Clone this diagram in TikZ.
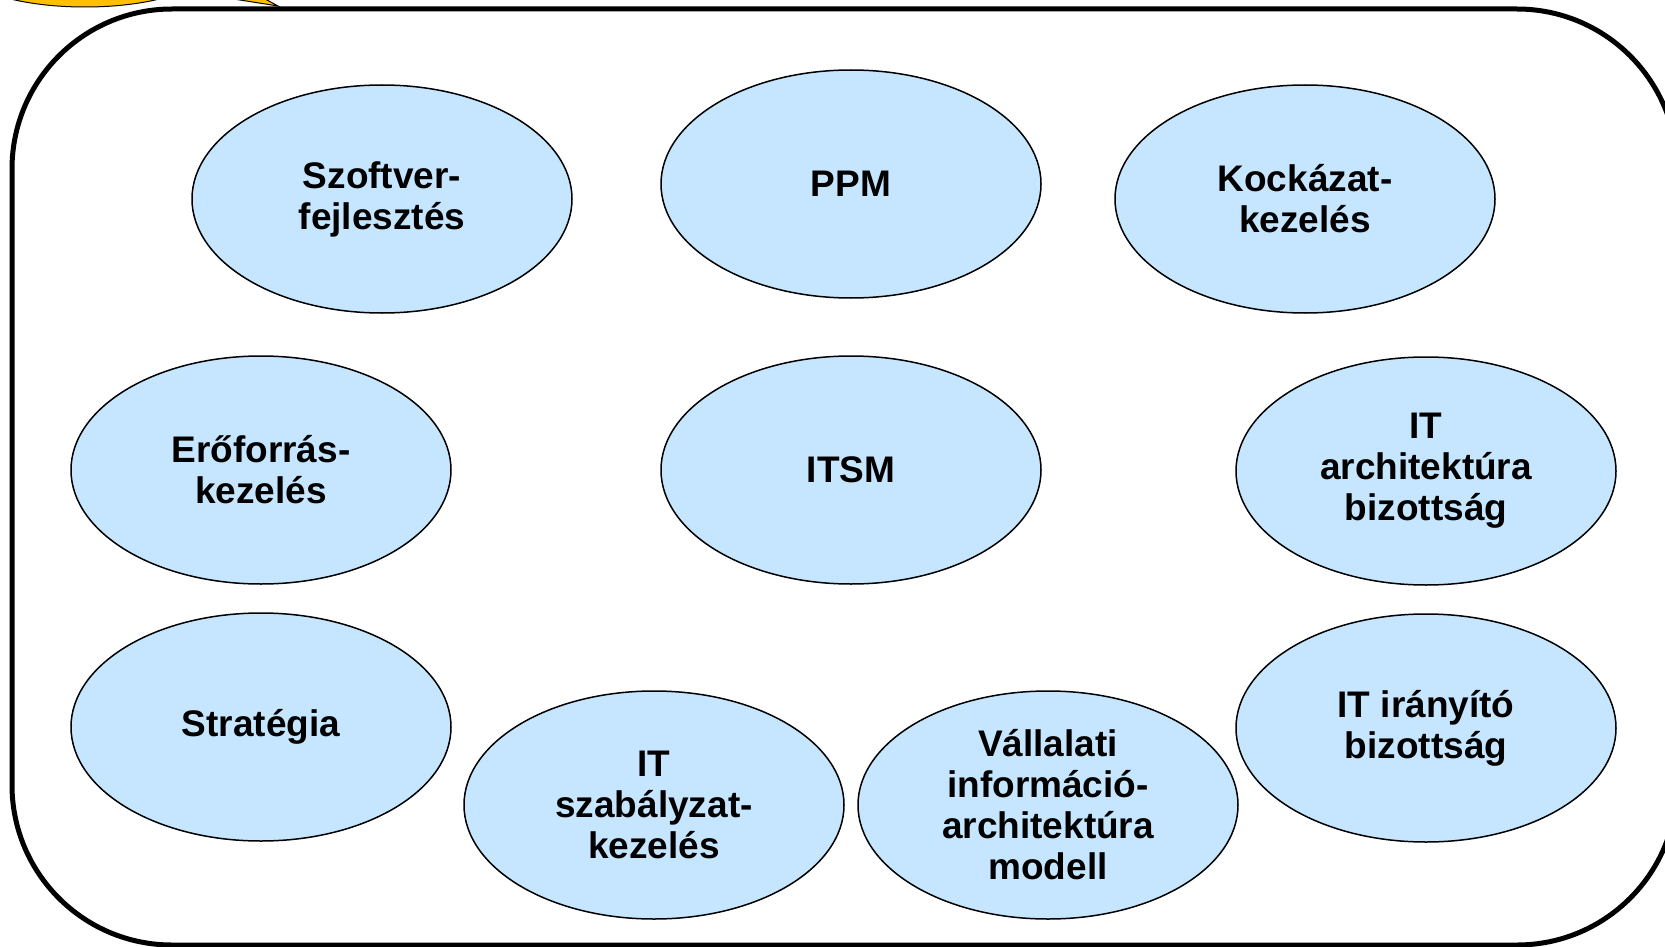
\documentclass[tikz,border=0pt]{standalone}
\usepackage{fontspec}
\setmainfont{Liberation Sans}
\usetikzlibrary{shapes.geometric}
\definecolor{topicblue}{RGB}{198,230,255}
\definecolor{calloutyellow}{RGB}{255,192,0}
\begin{document}
\begin{tikzpicture}[x=1pt,y=-1pt,
    topic/.style={ellipse, draw, line width=1.5pt, fill=topicblue, minimum width=380pt, minimum height=228pt, inner sep=0pt, align=center, font=\fontsize{37}{41}\selectfont\bfseries}]
    \useasboundingbox (0,0) rectangle (1665,947);
    \clip (0,0) rectangle (1665,947);
    %callout
    \filldraw[fill=calloutyellow, line width=1pt] (50,-30) -- (278,6) -- (212,-30) -- cycle;
    \filldraw[fill=calloutyellow, line width=1pt] (85,-33) ellipse [x radius=124, y radius=40];
    %frame
    \draw[line width=5pt, rounded corners=160pt] (12,9) rectangle (1677,945);
    %topics
    \node[topic] (szoftver) at (382,199) {Szoftver-\\fejlesztés};
    \node[topic] (ppm) at (851,184) {PPM};
    \node[topic] (kockazat) at (1305,199) {Kockázat-\\kezelés};
    \node[topic] (eroforras) at (261,470) {Erőforrás-\\kezelés};
    \node[topic] (itsm) at (851,470) {ITSM};
    \node[topic] (itarch) at (1426,471) {IT\\architektúra\\bizottság};
    \node[topic] (strategia) at (261,727) {Stratégia};
    \node[topic] (szabalyzat) at (654,805) {IT\\szabályzat-\\kezelés};
    \node[topic] (vallalati) at (1048,805) {Vállalati\\információ-\\architektúra\\modell};
    \node[topic] (iranyito) at (1426,728) {IT irányító\\bizottság};
\end{tikzpicture}
\end{document}
